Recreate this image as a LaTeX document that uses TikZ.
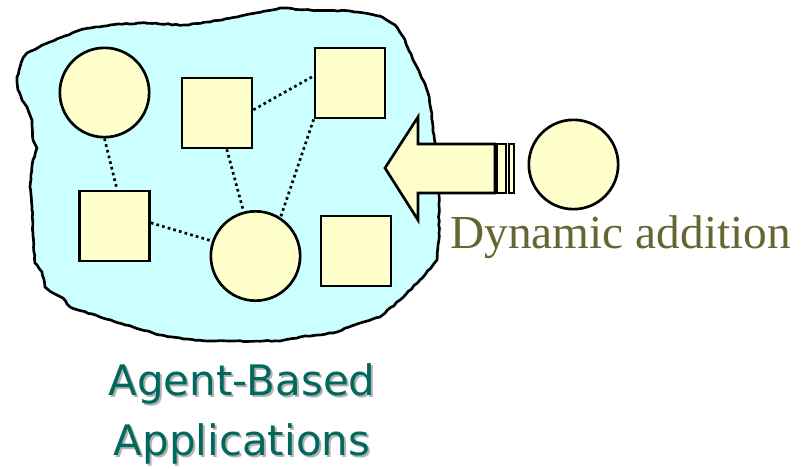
\documentclass[tikz,border=0pt]{standalone}
\usepackage{fontspec}
\setmainfont{Liberation Serif}
\newfontfamily\tahomalike{DejaVu Sans}
\usetikzlibrary{decorations.pathmorphing}
\definecolor{blobcyan}{RGB}{204,255,255}
\definecolor{agentfill}{RGB}{255,255,204}
\definecolor{oliveink}{RGB}{102,102,51}
\definecolor{tealink}{RGB}{0,104,92}
\definecolor{shadowgray}{RGB}{178,178,178}
\newcommand{\apptext}{Agent-Based\\Applications}
\pgfmathsetseed{7}

\begin{document}
\begin{tikzpicture}[x=0.75pt, y=-0.75pt, line width=2pt,
    agent/.style={draw, fill=agentfill, inner sep=0pt},
    round agent/.style={agent, circle, minimum size=67pt},
    box agent/.style={agent, rectangle, minimum size=52.5pt},
    link/.style={line width=2pt, dash pattern=on 2pt off 2.4pt},
    apptitle/.style={font=\tahomalike\fontsize{31.5}{45}\selectfont, align=center, anchor=base, inner sep=0pt}]
  \useasboundingbox (0,0) rectangle (805,468);
  % the application
  \draw[fill=blobcyan, decorate, decoration={random steps, segment length=3pt, amplitude=0.4pt}]
    (27,53) -- (50,42) -- (80,30) -- (110,25) -- (140,23) -- (185,25) -- (210,22) -- (245,15)
    -- (280,8) -- (310,10) -- (350,11) -- (380,16) -- (395,25) -- (405,40) -- (413,60) -- (423,80)
    -- (428,93) -- (431,110) -- (433,127) -- (435,145) -- (437,170) -- (439,193) -- (439,233)
    -- (437,260) -- (433,265) -- (420,280) -- (400,300) -- (380,317) -- (360,323) -- (333,333)
    -- (300,337) -- (280,341) -- (233,341) -- (207,341) -- (187,339) -- (160,335) -- (133,327)
    -- (100,317) -- (70,307) -- (63,298) -- (53,293) -- (45,287) -- (42,272) -- (35,263)
    -- (33,233) -- (32,207) -- (30,187) -- (33,160) -- (37,148) -- (33,140) -- (32,120)
    -- (27,107) -- (22,100) -- (18,90) -- (17,77) -- (20,67) -- (23,58) -- cycle;

  % agents
  \node[round agent] (c1) at (104.5,92.5) {};
  \node[round agent] (c2) at (255.5,256) {};
  \node[box agent] (s1) at (217,113) {};
  \node[box agent] (s2) at (350,83) {};
  \node[box agent] (s3) at (114.5,226) {};
  \node[box agent] (s4) at (356,251) {};

  \draw[link] (c1.south) -- (s3.86);
  \draw[link] (s1.5) -- (s2.169);
  \draw[link] (s1) -- (c2);
  \draw[link] (s2.south west) -- (c2.57);
  \draw[link] (s3.5) -- (c2.161);

  % incoming agent
  \draw[fill=agentfill, line join=miter]
    (385,168) -- (418,117) -- (418,144) -- (495,144) -- (495,193) -- (418,193) -- (418,220) -- cycle;
  \foreach \L/\R in {497/506, 509/514} {
    \draw[fill=agentfill, line width=1.5pt] (\L,144) rectangle (\R,193);
  }
  \node[round agent] (newagent) at (573.5,164.5) {};

  \node[font=\fontsize{35.5}{42}\selectfont, text=oliveink, anchor=base west, inner sep=0pt]
    (dyn) at (449,248) {Dynamic addition};

  \node[apptitle, text=shadowgray] (appshadow) at (244,457) {\apptext};
  \node[apptitle, text=tealink] (apps) at (242,455) {\apptext};
\end{tikzpicture}
\end{document}
